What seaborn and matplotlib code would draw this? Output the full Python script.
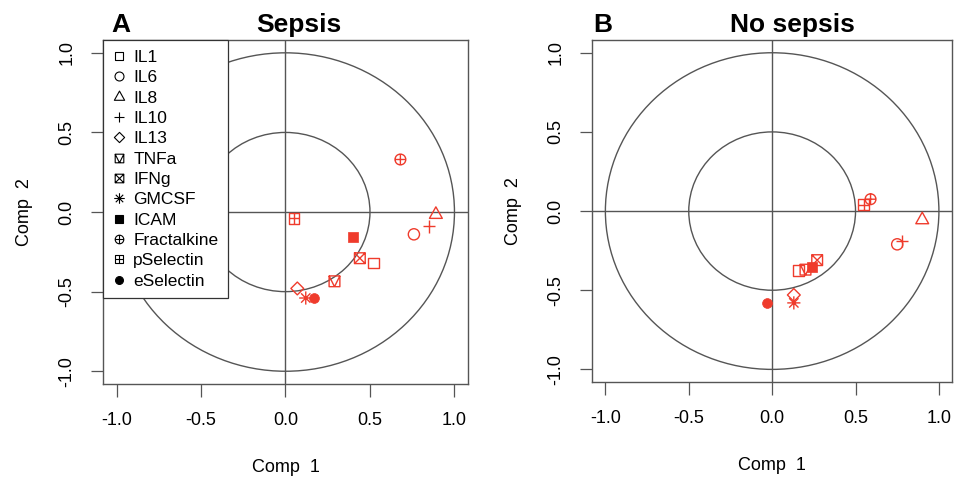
import numpy as np
import matplotlib
matplotlib.use("Agg")
import matplotlib.pyplot as plt
from matplotlib.path import Path
from matplotlib.lines import Line2D
from matplotlib.patches import Circle
import seaborn as sns

sns.set_style("white")
plt.rcParams['font.family'] = ['Liberation Sans', 'DejaVu Sans']
plt.rcParams['text.color'] = 'black'
plt.rcParams['axes.labelcolor'] = 'black'
plt.rcParams['xtick.color'] = 'black'
plt.rcParams['ytick.color'] = 'black'

# ---------------- data ----------------
cytokines = ["IL1", "IL6", "IL8", "IL10", "IL13", "TNFa", "IFNg", "GMCSF",
             "ICAM", "Fractalkine", "pSelectin", "eSelectin"]
sepsis_x = [0.52, 0.76, 0.89, 0.85, 0.07, 0.29, 0.44, 0.12, 0.40, 0.68, 0.05, 0.17]
sepsis_y = [-0.32, -0.14, -0.01, -0.09, -0.48, -0.435, -0.29, -0.54, -0.155, 0.33, -0.04, -0.54]
nosepsis_x = [0.16, 0.75, 0.90, 0.78, 0.13, 0.20, 0.27, 0.13, 0.24, 0.59, 0.55, -0.03]
nosepsis_y = [-0.375, -0.21, -0.05, -0.19, -0.53, -0.37, -0.31, -0.58, -0.355, 0.075, 0.04, -0.58]
ticks = [-1.0, -0.5, 0.0, 0.5, 1.0]
tick_labels = ["-1.0", "-0.5", "0.0", "0.5", "1.0"]
panel_titles = ["Sepsis", "No sepsis"]
panel_letters = ["A", "B"]

RED = "#EF3B2C"
GRAY = "#555555"

# ---------------- marker shapes (R pch look-alikes) ----------------
def seg_path(segs):
    verts, codes = [], []
    for a, b in segs:
        verts += [a, b]
        codes += [Path.MOVETO, Path.LINETO]
    return Path(verts, codes)

sq = [(-1, -1), (1, -1), (1, 1), (-1, 1), (-1, -1)]
square = Path(sq, [Path.MOVETO] + [Path.LINETO] * 3 + [Path.CLOSEPOLY])
circle = Path.unit_circle()
tri = Path([(0, 1), (-0.95, -0.7), (0.95, -0.7), (0, 1)],
           [Path.MOVETO, Path.LINETO, Path.LINETO, Path.CLOSEPOLY])
plus = seg_path([((-1, 0), (1, 0)), ((0, -1), (0, 1))])
diamond = Path([(0, 1), (1, 0), (0, -1), (-1, 0), (0, 1)],
               [Path.MOVETO] + [Path.LINETO] * 3 + [Path.CLOSEPOLY])
sq_v = Path.make_compound_path(square, seg_path([((-1, 1), (0, -1)), ((0, -1), (1, 1))]))
sq_x = Path.make_compound_path(square, seg_path([((-1, -1), (1, 1)), ((-1, 1), (1, -1))]))
d = 0.7071
aster = seg_path([((-1, 0), (1, 0)), ((0, -1), (0, 1)), ((-d, -d), (d, d)), ((-d, d), (d, -d))])
circ_plus = Path.make_compound_path(circle, seg_path([((-1, 0), (1, 0)), ((0, -1), (0, 1))]))
sq_plus = Path.make_compound_path(square, seg_path([((-1, 0), (1, 0)), ((0, -1), (0, 1))]))

markers = [square, circle, tri, plus, diamond, sq_v, sq_x, aster, "s", circ_plus, sq_plus, "o"]
filled = [False] * 8 + [True, False, False, True]
sizes = [60, 65, 95, 80, 85, 60, 60, 90, 45, 60, 60, 50]

fig = plt.figure(figsize=(9.58, 4.83), dpi=100)
axA = fig.add_axes([0.1075, 0.205, 0.381, 0.712])
axB = fig.add_axes([0.618, 0.209, 0.376, 0.708])

panels = [(axA, sepsis_x, sepsis_y), (axB, nosepsis_x, nosepsis_y)]

for ax, xs, ys in panels:
    ax.set_xlim(-1.08, 1.08)
    ax.set_ylim(-1.08, 1.08)
    for r in (1.0, 0.5):
        ax.add_patch(Circle((0, 0), r, fill=False, ec=GRAY, lw=1.0, zorder=1))
    ax.axhline(0, color=GRAY, lw=1.0, zorder=1)
    ax.axvline(0, color=GRAY, lw=1.0, zorder=1)
    for name, x, y, m, f, s in zip(cytokines, xs, ys, markers, filled, sizes):
        if f:
            sns.scatterplot(x=[x], y=[y], marker=m, s=s, color=RED,
                            edgecolor=RED, linewidth=0.5, ax=ax, zorder=3)
        else:
            sns.scatterplot(x=[x], y=[y], marker=m, s=s, facecolor="none",
                            edgecolor=RED, linewidth=1.0, ax=ax, zorder=3)
    ax.set_xticks(ticks)
    ax.set_xticklabels(tick_labels)
    ax.set_yticks(ticks)
    ax.set_yticklabels(tick_labels, rotation=90, va="center")
    ax.tick_params(axis="both", direction="out", length=9, width=0.9,
                   color=GRAY, labelcolor="black", labelsize=13, pad=11,
                   left=True, bottom=True)
    for sp in ax.spines.values():
        sp.set_color(GRAY)
        sp.set_linewidth(1.0)
    ax.set_xlabel("Comp  1", fontsize=13, labelpad=22, color="black")
    ax.set_ylabel("Comp  2", fontsize=13, labelpad=18, color="black")

# titles
ty = 1 - 25 / 483
fig.text(299 / 958, ty, panel_titles[0], fontsize=19, fontweight="bold",
         ha="center", va="center", color="black")
fig.text(121 / 958, ty, panel_letters[0], fontsize=19, fontweight="bold",
         ha="center", va="center", color="black")
fig.text(792 / 958, ty, panel_titles[1], fontsize=19, fontweight="bold",
         ha="center", va="center", color="black")
fig.text(603 / 958, ty, panel_letters[1], fontsize=19, fontweight="bold",
         ha="center", va="center", color="black")

# legend
handles = []
for m, f, s in zip(markers, filled, sizes):
    handles.append(Line2D([], [], linestyle="none", marker=m,
                          markersize=np.sqrt(s) * 0.8,
                          markerfacecolor="black" if f else "none",
                          markeredgecolor="black", markeredgewidth=0.8))
leg = axA.legend(handles, cytokines, loc="upper left", bbox_to_anchor=(0, 1),
                 borderaxespad=0, fontsize=12.5, frameon=True, fancybox=False,
                 framealpha=1, edgecolor="#333333", handlelength=0.7,
                 handletextpad=0.5, labelspacing=0.3, borderpad=0.55)
for t in leg.get_texts():
    t.set_color("black")
leg.get_frame().set_linewidth(0.9)
leg.set_zorder(5)

fig.savefig("out.png", dpi=100)
